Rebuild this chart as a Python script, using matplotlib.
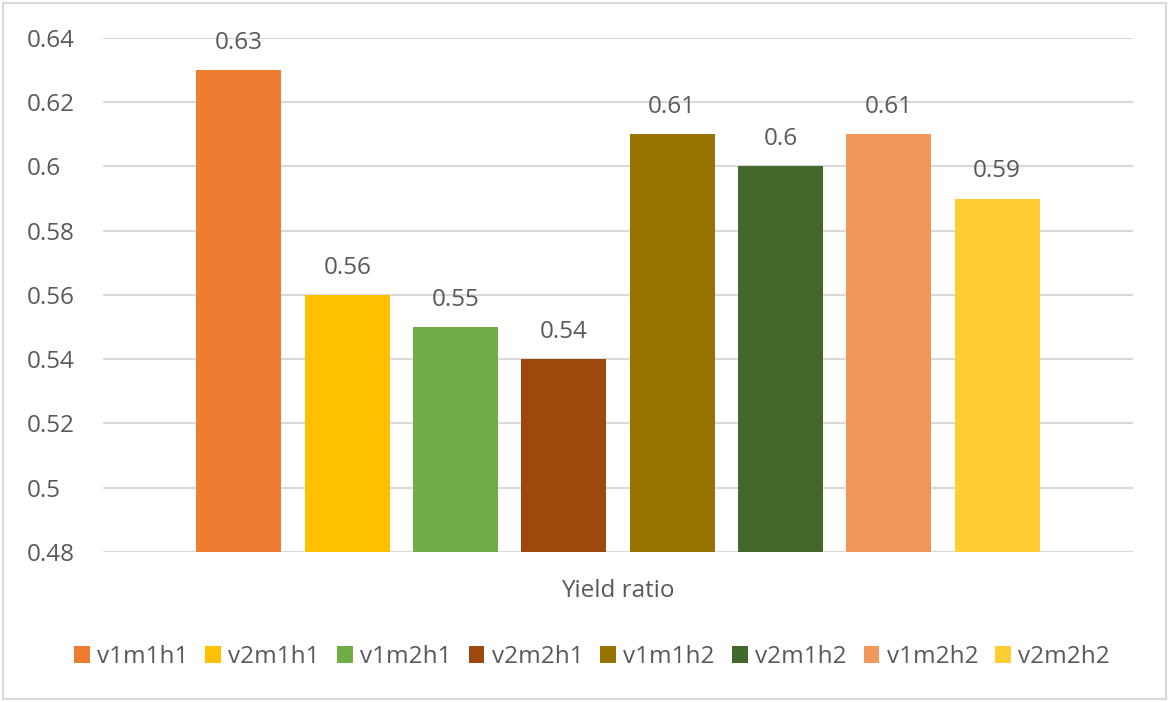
import numpy as np
import matplotlib.pyplot as plt
from matplotlib.patches import Rectangle

plt.rcParams['font.family'] = ['Open Sans', 'DejaVu Sans']

labels = ["v1m1h1", "v2m1h1", "v1m2h1", "v2m2h1", "v1m1h2", "v2m1h2", "v1m2h2", "v2m2h2"]
values = [0.63, 0.56, 0.55, 0.54, 0.61, 0.60, 0.61, 0.59]
value_text = ["0.63", "0.56", "0.55", "0.54", "0.61", "0.6", "0.61", "0.59"]
colors = ["#ED7D31", "#FFC000", "#70AD47", "#9E480E", "#997300", "#43682B", "#F1975A", "#FFCD33"]
yticks = [0.48, 0.50, 0.52, 0.54, 0.56, 0.58, 0.60, 0.62, 0.64]
ytick_labels = ["0.48", "0.5", "0.52", "0.54", "0.56", "0.58", "0.6", "0.62", "0.64"]

text_color = "#595959"
grid_color = "#D9D9D9"
fs = 17.5

fig = plt.figure(figsize=(11.69, 7.02), dpi=100)
ax = fig.add_axes([0.0881, 0.2137, 0.8811, 0.7322])

x = np.arange(len(labels))
for i in range(len(labels)):
    ax.bar(x[i], values[i] - 0.48, 0.785, bottom=0.48, color=colors[i],
           label=labels[i], zorder=3)
    ax.annotate(value_text[i], (x[i], values[i]), xytext=(0, 11),
                textcoords="offset points", ha="center", va="bottom",
                fontsize=fs, color=text_color, zorder=4)

ax.set_xlim(-1.255, 8.255)
ax.set_ylim(0.48, 0.64)
ax.set_yticks(yticks)
ax.set_yticklabels(ytick_labels, ha="left")
ax.set_xticks([])
ax.yaxis.grid(True, color=grid_color, linewidth=1.5, zorder=0)
ax.tick_params(axis="y", length=0, pad=55, labelsize=fs, labelcolor=text_color)
for s in ax.spines.values():
    s.set_visible(False)

fig.text(618 / 1169, 1 - 591 / 702, "Yield ratio", ha="center", va="center",
         fontsize=fs, color=text_color)

fig.legend(loc="center", bbox_to_anchor=(592 / 1169, 1 - 657 / 702), ncol=8,
           frameon=False, fontsize=fs, handlelength=0.65, handleheight=0.65,
           handletextpad=0.3, columnspacing=0.7, labelcolor=text_color)

fig.patches.append(Rectangle((3 / 1169, 3 / 702), 1163 / 1169, 696 / 702,
                             transform=fig.transFigure, fill=False,
                             edgecolor=grid_color, linewidth=1.5))

fig.savefig("out.png", dpi=100)
